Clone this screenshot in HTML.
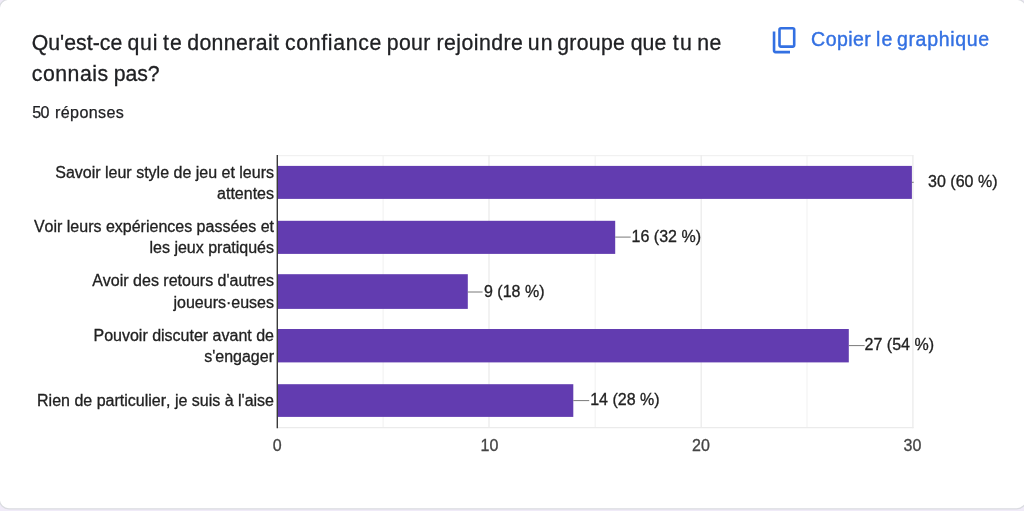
<!DOCTYPE html>
<html lang="fr">
<head>
<meta charset="utf-8">
<title>Qu'est-ce qui te donnerait confiance pour rejoindre un groupe que tu ne connais pas?</title>
<style>
  html, body { margin: 0; padding: 0; }
  body {
    width: 1024px; height: 511px; overflow: hidden; position: relative;
    background: #f0ebf8;
    font-family: "Liberation Sans", sans-serif;
  }
  svg.chart { position: absolute; left: 0; top: 0; }
  svg.chart text { font-family: "Liberation Sans", sans-serif; font-size: 16px; fill: #222; stroke: #222; stroke-width: 0.3px; font-kerning: none; white-space: pre; }
  svg.chart .ax text { fill: #444; stroke: #444; }
  svg.chart .title text { fill: #202124; stroke: #202124; stroke-width: 0.3px; }
  svg.chart .count text { fill: #202124; stroke: #202124; stroke-width: 0.25px; }
  svg.chart .copy text { fill: #3370e2; stroke: #3370e2; stroke-width: 0.4px; }
</style>
</head>
<body>
<svg class="chart" width="1024" height="511" viewBox="0 0 1024 511">
  <!-- card -->
  <rect x="-0.7" y="-0.7" width="1027" height="509.5" rx="9.6" ry="9.6" fill="#fff" stroke="#dadce0" stroke-width="1.25"/>
  <!-- question title -->
  <g class="title">
    <text y="49.6" style="font-size:21.25px"><tspan x="31.69" letter-spacing="0.035">Qu'est-ce</tspan> <tspan x="127.41" letter-spacing="0.883">qui</tspan> <tspan x="162.88" letter-spacing="1.144">te</tspan> <tspan x="187.21" letter-spacing="0.386">donnerait</tspan> <tspan x="285.00" letter-spacing="0.660">confiance</tspan> <tspan x="386.73" letter-spacing="0.364">pour</tspan> <tspan x="436.39" letter-spacing="0.471">rejoindre</tspan> <tspan x="527.82" letter-spacing="1.024">un</tspan> <tspan x="557.21" letter-spacing="0.314">groupe</tspan> <tspan x="630.81" letter-spacing="-0.009">que</tspan> <tspan x="672.78" letter-spacing="1.211">tu</tspan> <tspan x="697.34" letter-spacing="0.469">ne</tspan></text>
    <text y="81.3" style="font-size:21.25px"><tspan x="31.80" letter-spacing="0.521">connais</tspan> <tspan x="113.83" letter-spacing="-0.074">pas?</tspan></text>
  </g>
  <g class="count">
    <text y="117.6" style="font-size:16.1px"><tspan x="32.36" letter-spacing="-0.835">50</tspan> <tspan x="55.03" letter-spacing="0.374">réponses</tspan></text>
  </g>
  <!-- copy button -->
  <g class="copy">
    <text y="46.2" style="font-size:19.5px"><tspan x="811.11" letter-spacing="0.434">Copier</tspan> <tspan x="875.90" letter-spacing="1.170">le</tspan> <tspan x="896.93" letter-spacing="0.674">graphique</tspan></text>
  </g>
  <g fill="none" stroke="#3370e2" stroke-width="2.6">
    <rect x="779.5" y="28.2" width="14.7" height="18.4" rx="1.5" ry="1.5"/>
    <path d="M774.05 31.5V50.6a1.5 1.5 0 0 0 1.5 1.5H790"/>
  </g>
  <!-- chart area frame + gridlines -->
  <g stroke="#f3f3f3" stroke-width="1.2" fill="none">
    <line x1="383.1" y1="155.3" x2="383.1" y2="428"/>
    <line x1="595.2" y1="155.3" x2="595.2" y2="428"/>
    <line x1="807" y1="155.3" x2="807" y2="428"/>
  </g>
  <g stroke="#ebebeb" stroke-width="1.3" fill="none">
    <line x1="277.3" y1="155.6" x2="913.5" y2="155.6" stroke="#f1f1f1"/>
    <line x1="277.3" y1="427.6" x2="913.5" y2="427.6"/>
    <line x1="489" y1="155.3" x2="489" y2="428"/>
    <line x1="701.2" y1="155.3" x2="701.2" y2="428"/>
    <line x1="912.9" y1="155.3" x2="912.9" y2="428.2"/>
  </g>
  <!-- bars -->
  <g fill="#623cb0">
    <rect x="277.8" y="165.9" width="634.1" height="33"/>
    <rect x="277.8" y="220.8" width="337.4" height="33.1"/>
    <rect x="277.8" y="274.2" width="190" height="34.7"/>
    <rect x="277.8" y="329" width="571" height="33.4"/>
    <rect x="277.8" y="384.2" width="295.5" height="32.7"/>
  </g>
  <!-- annotation stems -->
  <g stroke="#6a6a6a" stroke-width="0.9" fill="none">
    <line x1="911.9" y1="182.3" x2="913.7" y2="182.3"/>
    <line x1="615.2" y1="237.1" x2="630.7" y2="237.1"/>
    <line x1="467.8" y1="292" x2="482.6" y2="292"/>
    <line x1="848.8" y1="345.6" x2="864.6" y2="345.6"/>
    <line x1="573.3" y1="400.6" x2="589.2" y2="400.6"/>
  </g>
  <!-- axis -->
  <line x1="277.3" y1="155" x2="277.3" y2="428.3" stroke="#3a3a3a" stroke-width="1.4"/>
  <!-- category labels -->
  <g text-anchor="end">
    <text x="274" y="177.7">Savoir leur style de jeu et leurs</text>
    <text x="274" y="199">attentes</text>
    <text x="274" y="231.9">Voir leurs expériences passées et</text>
    <text x="274" y="253.2">les jeux pratiqués</text>
    <text x="274" y="286.3">Avoir des retours d'autres</text>
    <text x="274" y="307.6">joueurs·euses</text>
    <text x="274" y="340.9">Pouvoir discuter avant de</text>
    <text x="274" y="362.1">s'engager</text>
    <text x="274" y="405.8">Rien de particulier, je suis à l'aise</text>
  </g>
  <!-- value annotations -->
  <rect x="486.5" y="283.5" width="4" height="15.5" fill="#fff"/>
  <g>
    <text x="928.1" y="187.1">30 (60 %)</text>
    <text x="631.6" y="241.9">16 (32 %)</text>
    <text x="484" y="296.8">9 (18 %)</text>
    <text x="864.6" y="350.4">27 (54 %)</text>
    <text x="590.2" y="405.3">14 (28 %)</text>
  </g>
  <!-- axis labels -->
  <g class="ax" text-anchor="middle">
    <text x="277.3" y="450.8">0</text>
    <text x="489.5" y="450.8">10</text>
    <text x="701" y="450.8">20</text>
    <text x="912.5" y="450.8">30</text>
  </g>
</svg>
</body>
</html>
